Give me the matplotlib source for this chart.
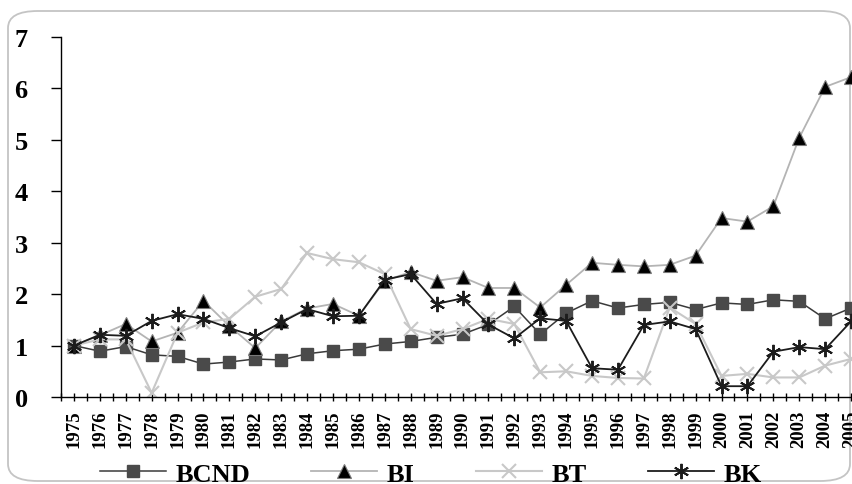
import matplotlib
matplotlib.use("Agg")
import matplotlib.pyplot as plt
import numpy as np
from matplotlib.patches import FancyBboxPatch

years = [str(y) for y in range(1975, 2006)]
bcnd = [1.00, 0.89, 0.98, 0.82, 0.79, 0.64, 0.68, 0.74, 0.72, 0.84, 0.90, 0.93, 1.03, 1.08, 1.16, 1.22,
        1.41, 1.76, 1.22, 1.63, 1.87, 1.73, 1.80, 1.84, 1.70, 1.83, 1.80, 1.89, 1.86, 1.52, 1.73]
bi = [1.00, 1.20, 1.42, 1.08, 1.25, 1.87, 1.38, 0.95, 1.47, 1.72, 1.81, 1.58, 2.26, 2.43, 2.26, 2.33,
      2.12, 2.12, 1.74, 2.18, 2.61, 2.57, 2.54, 2.57, 2.75, 3.48, 3.41, 3.71, 5.04, 6.03, 6.22]
bt = [1.00, 1.12, 1.12, 0.08, 1.25, 1.45, 1.52, 1.95, 2.10, 2.80, 2.68, 2.62, 2.39, 1.32, 1.19, 1.32,
      1.52, 1.42, 0.48, 0.50, 0.41, 0.37, 0.36, 1.74, 1.42, 0.41, 0.45, 0.38, 0.38, 0.61, 0.74]
bk = [1.00, 1.21, 1.19, 1.48, 1.61, 1.52, 1.34, 1.18, 1.45, 1.71, 1.57, 1.58, 2.28, 2.39, 1.81, 1.92,
      1.41, 1.14, 1.53, 1.48, 0.56, 0.53, 1.40, 1.47, 1.32, 0.21, 0.21, 0.88, 0.97, 0.93, 1.47]
y_ticks = [0, 1, 2, 3, 4, 5, 6, 7]

serif = "Liberation Serif"
W, H = 853, 485

fig = plt.figure(figsize=(W / 100, H / 100), dpi=100)

# rounded frame around the whole chart
frame = FancyBboxPatch((8 / W, 3 / H), 842 / W, 470 / H,
                       boxstyle="round,pad=0,rounding_size=0.035",
                       transform=fig.transFigure, facecolor="none",
                       edgecolor="#c4c4c4", linewidth=1.3, zorder=-1)
fig.patches.append(frame)

ax = fig.add_axes([61 / W, 87 / H, 803 / W, 360 / H])
ax.patch.set_alpha(0)
x = np.arange(len(years))

ax.plot(x, bcnd, color="#3a3a3a", lw=1.1, marker="s", ms=8,
        mfc="#4a4a4a", mec="#4a4a4a", label="BCND")
ax.plot(x, bi, color="#b4b4b4", lw=1.3, marker="^", ms=9.5,
        mfc="black", mec="#7a7a7a", mew=0.8, label="BI")
ax.plot(x, bt, color="#c8c8c8", lw=1.5, marker="x", ms=10,
        mec="#c8c8c8", mew=1.5, label="BT")
ax.plot(x, bk, color="#1c1c1c", lw=1.3, marker=(6, 2, 0), ms=11,
        mec="#1c1c1c", mew=1.4, label="BK")

ax.set_xlim(-0.5, len(years) - 0.5)
ax.set_ylim(0, 7)
ax.set_yticks(y_ticks)
ax.set_yticklabels([str(v) for v in y_ticks], fontfamily=serif, fontweight="bold", fontsize=19)
ax.set_xticks(x)
ax.set_xticklabels(years, rotation=90, fontfamily=serif, fontweight="bold", fontsize=13.5)
ax.set_xticks(np.arange(-0.5, len(years), 1.0), minor=True)

for s in ("top", "right"):
    ax.spines[s].set_visible(False)
for s in ("left", "bottom"):
    ax.spines[s].set_linewidth(1.0)
    ax.spines[s].set_color("black")

ax.tick_params(axis="y", direction="out", length=7, width=1.0, pad=17)
ax.tick_params(axis="x", which="both", direction="inout", length=6, width=1.0, pad=6)

handles, labels = ax.get_legend_handles_labels()
fig.legend(handles, labels, loc="center", bbox_to_anchor=(0.505, 0.021), ncol=4,
           frameon=False, prop={"family": serif, "weight": "bold", "size": 19},
           handlelength=2.5, handletextpad=0.38, columnspacing=2.3, borderpad=0.1)

fig.savefig("out.png", dpi=100)
